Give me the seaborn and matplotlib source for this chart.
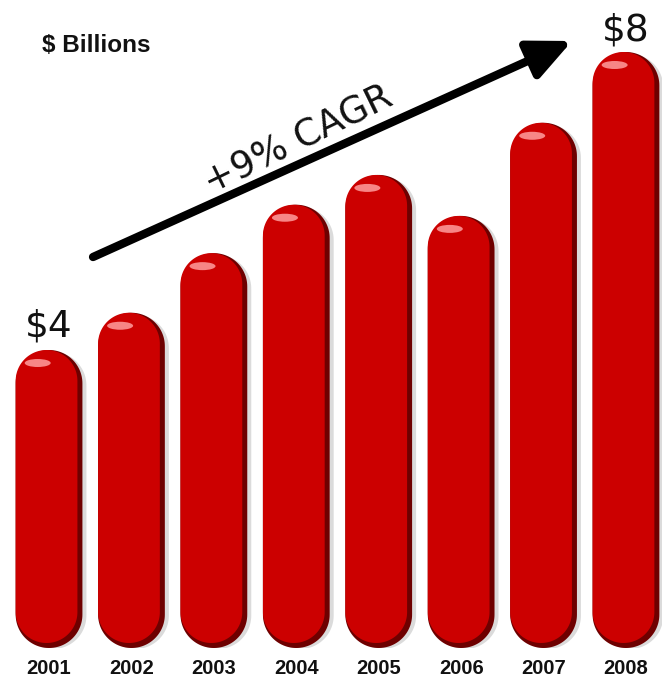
import numpy as np
import pandas as pd
import matplotlib
matplotlib.use("Agg")
import matplotlib.pyplot as plt
import seaborn as sns
from matplotlib.patches import Polygon, Ellipse, FancyArrowPatch

years = ["2001", "2002", "2003", "2004", "2005", "2006", "2007", "2008"]
revenue = [4.0, 4.5, 5.3, 5.95, 6.35, 5.8, 7.05, 8.0]
first_label = "$4"
last_label = "$8"
unit_label = "$ Billions"
growth_label = "+9% CAGR"

df = pd.DataFrame({"year": years, "revenue": revenue})

sns.set_theme(style="white")
plt.rcParams['font.family'] = ['DejaVu Sans']

W, H = 662, 690
fig = plt.figure(figsize=(W / 100, H / 100), dpi=100)
base_px = 42
ax = fig.add_axes([0, base_px / H, 1, (H - base_px) / H])

sns.barplot(data=df, x="year", y="revenue", color="#cc0000", width=0.81, ax=ax)
ax.set_xlim(-0.595, 7.437)
ax.set_ylim(0, (H - base_px) / 74.5)
for s in ax.spines.values():
    s.set_visible(False)
ax.set_yticks([])
ax.set_ylabel("")
ax.set_xlabel("")
ax.tick_params(axis="x", length=0, pad=8)
ax.set_xticks(range(len(years)))
ax.set_xticklabels(years, fontsize=14.5, fontweight="bold", family="Liberation Sans", color="#111111")

fig.canvas.draw()
p0 = ax.transData.transform((0, 0))
px_x = ax.transData.transform((1, 0))[0] - p0[0]
px_y = ax.transData.transform((0, 1))[1] - p0[1]
ux = 1 / px_x  # data per pixel x
uy = 1 / px_y  # data per pixel y


def capsule(x0, w, y0, y1):
    r = w / 2
    ry = r * px_x / px_y
    cx = x0 + r
    t1 = np.linspace(0, np.pi, 60)
    t2 = np.linspace(np.pi, 2 * np.pi, 60)
    top = np.column_stack([cx + r * np.cos(t1), (y1 - ry) + ry * np.sin(t1)])
    bot = np.column_stack([cx + r * np.cos(t2), (y0 + ry) + ry * np.sin(t2)])
    return np.vstack([top, bot])


patches = list(ax.patches)
for p in patches:
    x0 = p.get_x()
    w = p.get_width()
    h = p.get_height()
    p.set_visible(False)
    # soft shadow
    ax.add_patch(Polygon(capsule(x0 + 4 * ux, w, -1 * uy, h - 2 * uy), closed=True,
                         facecolor="#b0b0b0", edgecolor="none", alpha=0.45, zorder=2))
    # dark bevel
    ax.add_patch(Polygon(capsule(x0, w, 0, h), closed=True,
                         facecolor="#6e0000", edgecolor="none", zorder=3))
    # main body
    ax.add_patch(Polygon(capsule(x0, w - 5 * ux, 5 * uy, h), closed=True,
                         facecolor="#cc0000", edgecolor="none", zorder=4))
    # highlight
    ax.add_patch(Ellipse((x0 + w * 0.33, h - 13 * uy), 26 * ux, 8 * uy, angle=0,
                         facecolor="#ff9f9f", edgecolor="none", alpha=0.85, zorder=5))

ax.text(0, revenue[0] + 5 * uy, first_label, ha="center", va="bottom", fontsize=27,
        color="#111111", zorder=6)
ax.text(7, revenue[-1] + 3 * uy, last_label, ha="center", va="bottom", fontsize=27,
        color="#111111", zorder=6)

fig.text(42 / W, 1 - 45 / H, unit_label, ha="left", va="center", fontsize=17.5,
         fontweight="bold", family="Liberation Sans", color="#111111")

start = ((93 - 49) * ux, (648 - 257) * uy)
end = ((572 - 49) * ux, (648 - 41) * uy)
arrow = FancyArrowPatch(start, end, arrowstyle="-|>,head_length=1.3,head_width=0.6",
                        mutation_scale=20, lw=6, color="black", zorder=6,
                        shrinkA=0, shrinkB=0)
ax.add_patch(arrow)

ax.text((298 - 49) * ux, (648 - 140) * uy, growth_label, ha="center", va="center",
        fontsize=26.5, rotation=26, rotation_mode="anchor",
        color="#111111", zorder=6)

fig.savefig("out.png", dpi=100, facecolor="white")
